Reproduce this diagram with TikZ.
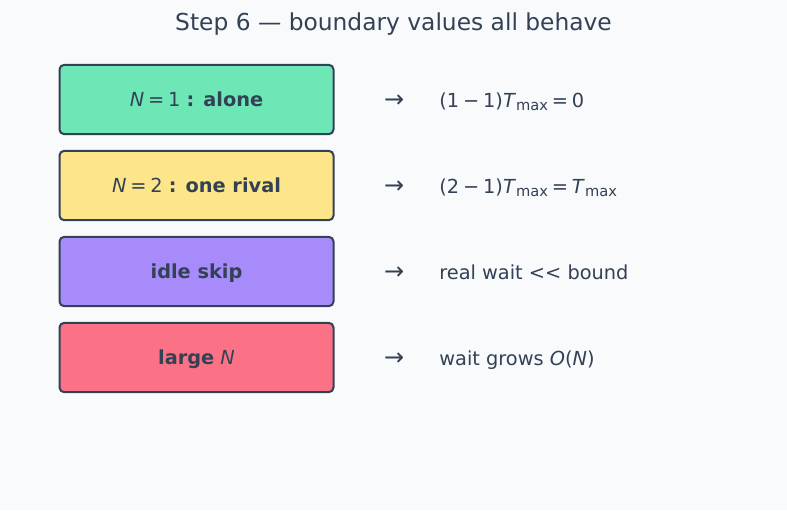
\documentclass[tikz,border=0pt]{standalone}
\usepackage{fontspec}
\setmainfont{DejaVu Sans}
\usetikzlibrary{positioning}
\definecolor{slatefg}{HTML}{334155}
\definecolor{pagebg}{HTML}{F8FAFC}
\definecolor{mintfill}{HTML}{6EE7B7}
\definecolor{sandfill}{HTML}{FDE68A}
\definecolor{violetfill}{HTML}{A78BFA}
\definecolor{rosefill}{HTML}{FB7185}
\newcommand{\opsp}{\hspace{0.2em}}
\newcommand{\tmax}{\textit{T}\raisebox{-0.16em}{\fontsize{11}{11}\selectfont max}}

\begin{document}
\begin{tikzpicture}[
    x=0.75pt, y=-0.75pt,
    node distance=11pt,
    casebox/.style={rectangle, rounded corners=3.5pt, draw=slatefg, line width=1.5pt, minimum width=205.5pt, minimum height=52pt, text height=13.5pt, text depth=3.7pt, text=slatefg, font=\fontsize{14.5}{17}\selectfont},
    arrowlbl/.style={inner sep=0pt, yshift=-1pt, text=slatefg, font=\fontsize{18}{20}\selectfont},
    resultlbl/.style={inner sep=0pt, text height=14pt, text depth=3.5pt, text=slatefg, font=\fontsize{14.5}{17}\selectfont}
]
\fill[pagebg] (0,0) rectangle (787,510);
\node[text=slatefg, font=\fontsize{17.5}{21}\selectfont] (title) at (393.5,24) {Step 6 — boundary values all behave};

\node[casebox, fill=mintfill] (alone) at (196.5,99.5) {\textit{N}\opsp=\opsp1 \textbf{: alone}};
\node[casebox, fill=sandfill, below=of alone] (rival) {\textit{N}\opsp=\opsp2 \textbf{: one rival}};
\node[casebox, fill=violetfill, below=of rival] (idle) {\textbf{idle skip}};
\node[casebox, fill=rosefill, below=of idle] (large) {\textbf{large} \textit{N}};

\node[arrowlbl, right=37pt of alone] (arrA) {→};
\node[arrowlbl, right=37pt of rival] (arrB) {→};
\node[arrowlbl, right=37pt of idle] (arrC) {→};
\node[arrowlbl, right=37pt of large] (arrD) {→};

\node[resultlbl, right=26pt of arrA.east, anchor=west] (resA) {(1\opsp−\opsp1)\tmax\opsp=\opsp0};
\node[resultlbl, right=26pt of arrB.east, anchor=west] (resB) {(2\opsp−\opsp1)\tmax\opsp=\opsp\tmax};
\node[resultlbl, right=26pt of arrC.east, anchor=west] (resC) {real wait <\kern0pt< bound};
\node[resultlbl, right=26pt of arrD.east, anchor=west] (resD) {wait grows \textit{O}(\textit{N})};
\end{tikzpicture}
\end{document}
